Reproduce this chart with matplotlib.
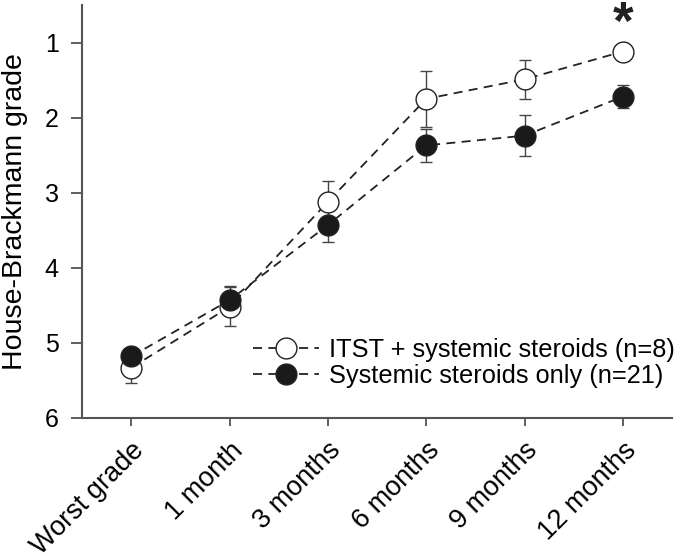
import matplotlib
matplotlib.use("Agg")
import matplotlib.pyplot as plt

plt.rcParams['font.family'] = ['Liberation Sans', 'DejaVu Sans']

categories = ["Worst grade", "1 month", "3 months", "6 months", "9 months", "12 months"]
itst_mean = [5.33, 4.52, 3.12, 1.75, 1.49, 1.12]
itst_err = [0.20, 0.26, 0.28, 0.37, 0.26, 0.0]
sys_mean = [5.18, 4.43, 3.43, 2.37, 2.24, 1.72]
sys_err = [0.05, 0.19, 0.23, 0.22, 0.27, 0.15]
label_itst = "ITST + systemic steroids (n=8)"
label_sys = "Systemic steroids only (n=21)"

x = list(range(len(categories)))

fig = plt.figure(figsize=(6.85, 5.6), dpi=100)
ax = fig.add_axes([0.12, 0.2536, 0.861, 0.7375])

lc = '#222222'
ax.errorbar(x, itst_mean, yerr=itst_err, fmt='none', ecolor='#444444', elinewidth=1.0,
            capsize=4.3, capthick=1.0, zorder=2)
ax.errorbar(x, sys_mean, yerr=sys_err, fmt='none', ecolor='#444444', elinewidth=1.0,
            capsize=4.3, capthick=1.0, zorder=2)
ax.plot(x, itst_mean, linestyle=(0, (5, 3.5)), color=lc, lw=1.3, marker='o', markersize=15,
        markerfacecolor='white', markeredgecolor=lc, markeredgewidth=1.0, label=label_itst, zorder=3)
ax.plot(x, sys_mean, linestyle=(0, (5, 3.5)), color=lc, lw=1.3, marker='o', markersize=15,
        markerfacecolor='#1a1a1a', markeredgecolor=lc, markeredgewidth=1.0, label=label_sys, zorder=4)

ax.text(5, 0.95, '*', ha='center', va='baseline', fontsize=38, fontweight='bold',
        color='#222222', clip_on=False)

ax.set_xlim(-0.5, 5.5)
ax.set_ylim(6, 0.5)
ax.set_yticks([1, 2, 3, 4, 5, 6])
ax.set_xticks(x)
ax.set_xticklabels(categories, rotation=45, ha='right', rotation_mode='anchor', fontsize=19.5)
ax.tick_params(axis='y', labelsize=18, length=8, width=1.2, color='#444444', direction='out', pad=9)
ax.tick_params(axis='x', length=6, width=1.2, color='#444444', direction='out', pad=8)
ax.set_ylabel("House-Brackmann grade", fontsize=20.5)
ax.yaxis.set_label_coords(-0.092, 0.5)

for s in ['top', 'right']:
    ax.spines[s].set_visible(False)
for s in ['left', 'bottom']:
    ax.spines[s].set_color('#555555')
    ax.spines[s].set_linewidth(1.5)

ax.legend(loc='upper left', bbox_to_anchor=(253 / 685, 1 - 338 / 560), bbox_transform=fig.transFigure,
          frameon=False, fontsize=18.3, handlelength=2.6, handletextpad=0.4, borderpad=0,
          borderaxespad=0, labelspacing=0.08)

fig.savefig("out.png", dpi=100)
